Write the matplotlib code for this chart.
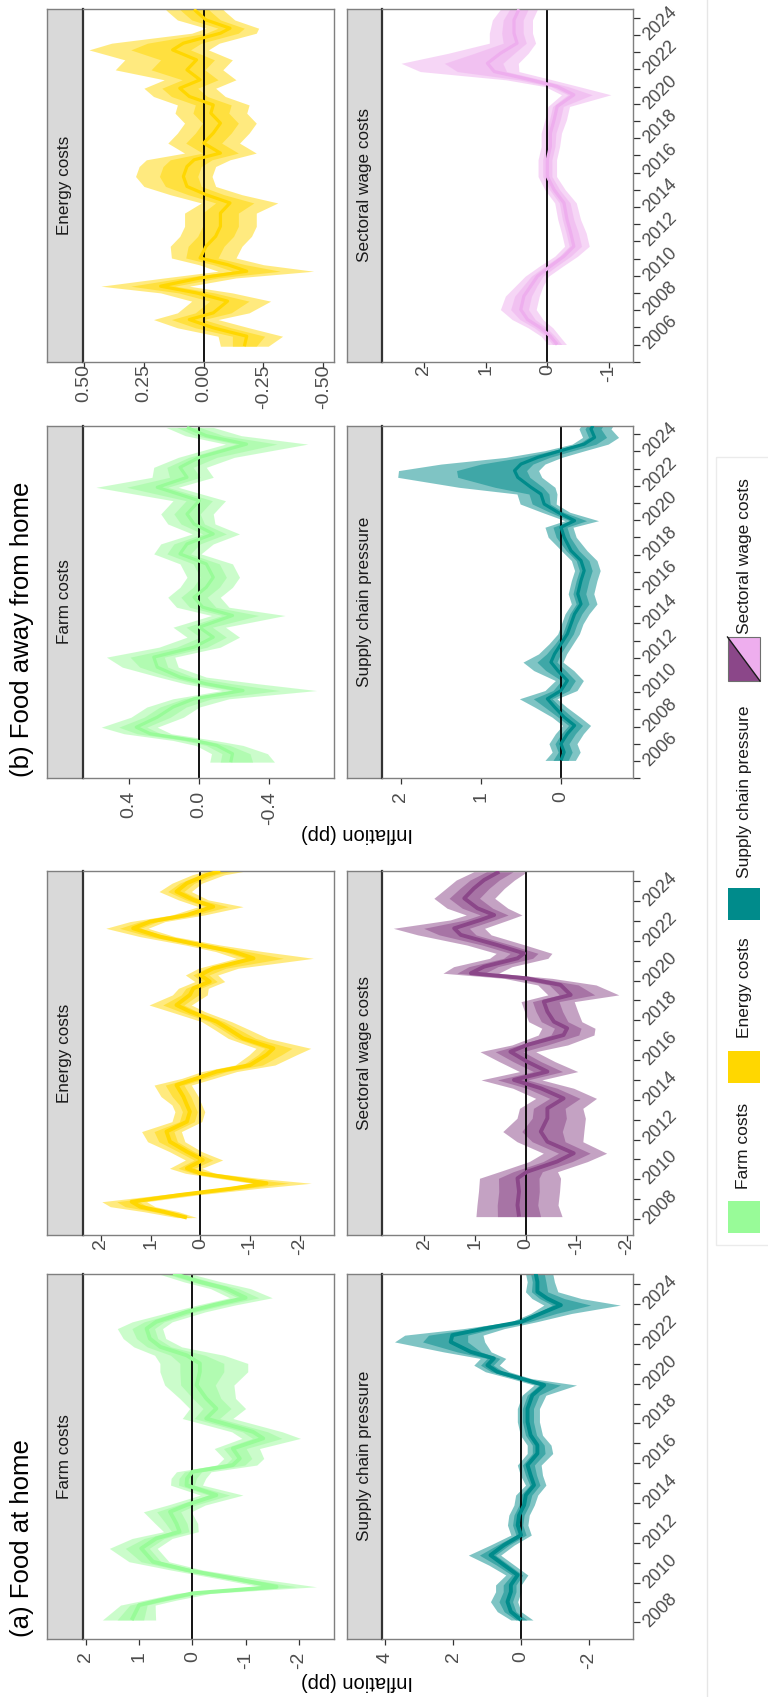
import numpy as np
import matplotlib
matplotlib.use("Agg")
import matplotlib.pyplot as plt
from matplotlib.patches import Rectangle, Polygon
from matplotlib.transforms import ScaledTranslation

plt.rcParams['font.family'] = ['Liberation Sans', 'DejaVu Sans']

# ---------------- data (years, centre estimate, outer band above / below) ----------------
# (a) Food at home
a_farm_t = [2008.12, 2008.87, 2009.12, 2009.46, 2009.79, 2010.21, 2010.63, 2011.05, 2011.72, 2012.22,
            2012.56, 2012.97, 2013.56, 2013.9, 2014.4, 2014.9, 2015.24, 2015.57, 2015.91, 2016.24,
            2016.74, 2017.25, 2017.58, 2018.25, 2018.75, 2019.26, 2019.93, 2020.6, 2021.02, 2021.43,
            2021.85, 2022.27, 2022.77, 2023.11, 2023.61, 2023.95, 2024.32, 2024.78, 2025.12, 2025.54]
a_farm_c = [1.14, 1.0, 0.6, 0.0, -1.58, -0.76, 0.1, 0.74, 0.96, 0.68,
            0.24, 0.3, 0.42, 0.11, -0.45, 0.11, 0.1, 0.0, -0.76, -0.89,
            -0.76, -1.33, -1.14, -0.26, -0.45, -0.26, -0.08, -0.14, -0.14, 0.11,
            0.6, 0.8, 0.86, 0.68, 0.11, -0.39, -1.0, -0.64, -0.14, 0.36]
a_farm_up = [0.55, 0.35, 0.3, 0.3, 0.3, 0.3, 0.3, 0.45, 0.6, 0.45,
             0.3, 0.4, 0.5, 0.35, 0.3, 0.3, 0.3, 0.3, 0.3, 0.3,
             0.35, 0.4, 0.4, 0.45, 0.5, 0.5, 0.6, 0.75, 0.75, 0.6,
             0.5, 0.5, 0.55, 0.45, 0.3, 0.3, 0.3, 0.3, 0.3, 0.3]
a_farm_dn = [0.45, 0.3, 0.3, 0.35, 0.75, 0.45, 0.3, 0.3, 0.3, 0.3,
             0.35, 0.4, 0.4, 0.35, 0.5, 0.3, 0.35, 0.35, 0.45, 0.45,
             0.5, 0.7, 0.55, 0.5, 0.55, 0.55, 0.7, 0.9, 0.9, 0.7,
             0.4, 0.3, 0.3, 0.3, 0.35, 0.4, 0.5, 0.45, 0.4, 0.3]

a_energy_t = [2008.07, 2008.37, 2008.62, 2008.87, 2009.21, 2009.54, 2009.8, 2010.05, 2010.3, 2010.55,
              2010.97, 2011.39, 2011.89, 2012.4, 2012.9, 2013.4, 2013.74, 2014.16, 2014.74, 2015.08,
              2015.42, 2015.75, 2016.26, 2016.59, 2017.09, 2017.51, 2017.93, 2018.44, 2018.77, 2019.28,
              2019.61, 2019.95, 2020.28, 2020.62, 2021.12, 2021.46, 2021.79, 2022.21, 2022.63, 2022.97,
              2023.3, 2023.72, 2024.06, 2024.48, 2024.9, 2025.32, 2025.51]
a_energy_c = [0.27, 0.74, 1.21, 1.38, 0.41, -0.66, -1.33, -0.66, 0.0, 0.27,
              -0.05, 0.27, 0.61, 0.68, 0.27, 0.21, 0.27, 0.34, 0.48, 0.07,
              -0.33, -1.0, -1.33, -1.47, -0.86, -0.6, -0.33, 0.21, 0.48, 0.21,
              0.14, -0.19, 0.0, -0.26, -1.07, -0.66, 0.0, 0.81, 1.35, 1.01,
              0.27, -0.26, 0.14, 0.48, 0.27, -0.13, -0.4]
a_energy_up = [0.2, 0.4, 0.6, 0.6, 0.4, 0.3, 0.3, 0.3, 0.3, 0.35,
               0.35, 0.35, 0.45, 0.5, 0.3, 0.3, 0.3, 0.45, 0.45, 0.3,
               0.3, 0.3, 0.35, 0.35, 0.3, 0.3, 0.3, 0.4, 0.55, 0.35,
               0.3, 0.3, 0.3, 0.3, 0.35, 0.35, 0.3, 0.4, 0.55, 0.4,
               0.3, 0.3, 0.3, 0.35, 0.3, 0.3, 0.3]
a_energy_dn = [0.2, 0.3, 0.3, 0.3, 0.35, 0.5, 0.9, 0.5, 0.3, 0.3,
               0.4, 0.3, 0.3, 0.3, 0.3, 0.3, 0.3, 0.3, 0.3, 0.35,
               0.4, 0.5, 0.6, 0.75, 0.5, 0.4, 0.3, 0.3, 0.3, 0.35,
               0.3, 0.3, 0.35, 0.5, 1.2, 0.6, 0.4, 0.3, 0.3, 0.3,
               0.35, 0.6, 0.3, 0.3, 0.3, 0.35, 0.5]

a_supply_t = [2008.12, 2008.54, 2009.04, 2009.54, 2009.88, 2010.38, 2010.88, 2011.38, 2011.89, 2012.39,
              2012.89, 2013.39, 2013.9, 2014.4, 2014.9, 2015.4, 2015.91, 2016.49, 2016.91, 2017.41,
              2018.08, 2018.75, 2019.42, 2019.93, 2020.26, 2020.6, 2020.93, 2021.27, 2021.6, 2022.1,
              2022.44, 2022.77, 2023.11, 2023.53, 2023.95, 2024.28, 2024.62, 2025.12, 2025.54]
a_supply_c = [0.0, 0.3, 0.4, 0.3, 0.3, 0.1, 0.5, 0.9, 0.5, 0.0,
              0.1, 0.06, -0.09, -0.14, -0.38, -0.28, -0.19, -0.48, -0.48, -0.28,
              -0.19, -0.19, -0.33, -0.68, 0.0, 0.7, 0.99, 0.8, 1.48, 2.07,
              2.02, 1.09, 0.0, -0.58, -1.17, -0.77, -0.48, -0.48, -0.43]
a_supply_up = [0.3, 0.4, 0.5, 0.45, 0.45, 0.35, 0.45, 0.65, 0.4, 0.3,
               0.3, 0.3, 0.3, 0.3, 0.25, 0.3, 0.3, 0.3, 0.3, 0.3,
               0.3, 0.3, 0.3, 0.3, 0.3, 0.35, 0.4, 0.4, 0.8, 1.65,
               1.4, 0.6, 0.3, 0.3, 0.5, 0.45, 0.35, 0.3, 0.3]
a_supply_dn = [0.35, 0.3, 0.3, 0.3, 0.3, 0.3, 0.3, 0.3, 0.3, 0.3,
               0.3, 0.3, 0.3, 0.35, 0.35, 0.35, 0.4, 0.45, 0.4, 0.35,
               0.35, 0.35, 0.4, 0.95, 0.3, 0.35, 0.35, 0.35, 0.6, 1.0,
               0.9, 0.6, 0.45, 0.9, 1.75, 1.0, 0.6, 0.5, 0.5]

a_wage_t = [2008.12, 2008.7, 2009.38, 2010.05, 2010.38, 2010.89, 2011.31, 2011.89, 2012.4, 2013.07,
            2013.57, 2014.07, 2014.58, 2015.0, 2015.42, 2015.92, 2016.42, 2016.76, 2017.26, 2017.6,
            2017.93, 2018.44, 2018.94, 2019.28, 2019.78, 2020.11, 2020.37, 2020.7, 2021.12, 2021.37,
            2021.79, 2022.3, 2022.63, 2023.05, 2023.3, 2023.64, 2024.14, 2024.64, 2025.06, 2025.48]
a_wage_c = [0.13, 0.16, 0.13, 0.16, -0.03, -0.62, -0.95, -0.43, -0.3, -0.43,
            -0.43, -0.75, -0.3, 0.23, -0.43, -0.03, 0.3, -0.03, -0.75, -0.82,
            -0.56, -0.43, -0.36, -0.89, -0.69, -0.03, 1.08, 0.82, 0.16, 0.03,
            0.56, 1.28, 1.41, 0.89, 0.62, 0.95, 1.21, 1.02, 0.82, 0.52]
a_wage_up = [0.85, 0.8, 0.8, 0.75, 0.55, 0.55, 0.6, 0.6, 0.75, 0.6,
             0.55, 0.55, 0.55, 0.65, 0.55, 0.55, 0.6, 0.3, 0.5, 0.5,
             0.5, 0.45, 0.45, 0.45, 0.45, 0.45, 0.55, 0.6, 0.55, 0.55,
             0.6, 0.85, 1.2, 0.6, 0.55, 0.6, 0.6, 0.55, 0.55, 0.5]
a_wage_dn = [0.85, 0.8, 0.8, 0.85, 0.6, 0.6, 0.65, 0.7, 0.85, 0.75,
             0.7, 0.65, 0.65, 0.55, 0.6, 0.55, 0.5, 0.8, 0.6, 0.55,
             0.55, 0.6, 0.6, 0.95, 0.7, 0.5, 0.55, 0.55, 0.6, 0.55,
             0.55, 0.6, 0.6, 0.55, 0.55, 0.6, 0.6, 0.6, 0.6, 0.55]

# (b) Food away from home
b_farm_t = [2005.94, 2006.43, 2006.91, 2007.2, 2007.59, 2007.97, 2008.55, 2009.14, 2009.62, 2010.1,
            2010.49, 2010.88, 2011.46, 2012.04, 2012.62, 2013.2, 2013.78, 2014.46, 2014.94, 2015.52,
            2016.1, 2016.68, 2017.46, 2018.04, 2018.62, 2019.2, 2019.78, 2020.36, 2021.13, 2021.91,
            2022.49, 2023.07, 2023.65, 2024.42, 2024.91, 2025.39]
b_farm_c = [-0.18, -0.19, -0.1, 0.03, 0.28, 0.36, 0.24, 0.15, 0.03, -0.25,
            -0.04, 0.11, 0.24, 0.26, 0.03, -0.08, 0.0, -0.19, -0.02, 0.03,
            -0.04, -0.08, -0.04, 0.11, 0.07, -0.08, 0.03, 0.07, 0.0, 0.24,
            0.07, 0.11, 0.0, -0.27, -0.04, 0.07]
b_farm_up = [0.12, 0.12, 0.12, 0.12, 0.15, 0.2, 0.15, 0.15, 0.12, 0.12,
             0.12, 0.12, 0.2, 0.27, 0.2, 0.15, 0.15, 0.12, 0.15, 0.15,
             0.15, 0.15, 0.15, 0.15, 0.15, 0.12, 0.15, 0.15, 0.15, 0.35,
             0.2, 0.15, 0.12, 0.12, 0.12, 0.12]
b_farm_dn = [0.25, 0.2, 0.15, 0.12, 0.12, 0.12, 0.15, 0.15, 0.2, 0.42,
             0.3, 0.15, 0.12, 0.12, 0.15, 0.15, 0.15, 0.3, 0.15, 0.15,
             0.15, 0.15, 0.15, 0.12, 0.15, 0.15, 0.12, 0.15, 0.15, 0.12,
             0.15, 0.15, 0.2, 0.35, 0.2, 0.15]

b_energy_t = [2005.9, 2006.48, 2006.97, 2007.45, 2007.84, 2008.52, 2009.0, 2009.39, 2009.87, 2010.26,
              2010.64, 2011.03, 2011.71, 2012.29, 2012.87, 2013.64, 2014.23, 2014.71, 2015.19, 2015.77,
              2016.35, 2016.74, 2017.13, 2017.71, 2018.29, 2018.87, 2019.45, 2019.93, 2020.42, 2020.9,
              2021.39, 2021.97, 2022.55, 2023.13, 2023.52, 2024.1, 2024.39, 2024.87, 2025.35, 2025.49]
b_energy_c = [-0.17, -0.18, -0.04, 0.06, -0.04, -0.1, 0.03, 0.18, 0.015, -0.18,
              -0.1, 0.015, -0.01, -0.05, -0.07, -0.07, -0.11, -0.01, 0.07, 0.085,
              0.07, 0.04, -0.07, 0.0, -0.04, -0.07, -0.03, -0.04, 0.06, 0.1,
              0.015, 0.07, 0.03, 0.13, 0.085, -0.07, -0.11, -0.01, 0.03, 0.04]
b_energy_up = [0.1, 0.12, 0.15, 0.15, 0.15, 0.15, 0.15, 0.25, 0.15, 0.12,
               0.12, 0.12, 0.15, 0.15, 0.15, 0.15, 0.12, 0.15, 0.18, 0.2,
               0.2, 0.2, 0.15, 0.15, 0.15, 0.15, 0.15, 0.15, 0.15, 0.15,
               0.15, 0.3, 0.3, 0.35, 0.3, 0.12, 0.1, 0.12, 0.12, 0.12]
b_energy_dn = [0.1, 0.15, 0.15, 0.12, 0.15, 0.18, 0.15, 0.12, 0.15, 0.28,
               0.15, 0.15, 0.15, 0.15, 0.15, 0.15, 0.2, 0.15, 0.12, 0.12,
               0.12, 0.15, 0.15, 0.15, 0.15, 0.15, 0.15, 0.15, 0.15, 0.15,
               0.15, 0.15, 0.15, 0.15, 0.15, 0.15, 0.12, 0.12, 0.12, 0.12]

b_supply_t = [2006.04, 2006.52, 2007.01, 2007.59, 2008.07, 2008.55, 2009.14, 2009.62, 2010.1, 2010.68,
              2011.26, 2011.75, 2012.23, 2012.81, 2013.39, 2013.97, 2014.55, 2015.13, 2015.72, 2016.49,
              2017.07, 2017.65, 2018.23, 2019.01, 2019.59, 2019.97, 2020.46, 2020.94, 2021.52, 2021.91,
              2022.49, 2022.88, 2023.26, 2023.65, 2024.04, 2024.42, 2024.81, 2025.3, 2025.49]
b_supply_c = [0.0, -0.04, 0.0, -0.08, -0.17, -0.04, 0.08, 0.17, 0.0, -0.08,
              0.04, 0.125, 0.08, 0.0, -0.08, -0.125, -0.17, -0.25, -0.21, -0.25,
              -0.29, -0.25, -0.125, -0.04, 0.0, -0.17, 0.04, 0.21, 0.25, 0.375,
              0.54, 0.58, 0.5, 0.29, 0.0, -0.29, -0.42, -0.375, -0.4]
b_supply_up = [0.2, 0.15, 0.15, 0.15, 0.15, 0.15, 0.25, 0.35, 0.2, 0.15,
               0.3, 0.35, 0.2, 0.15, 0.12, 0.12, 0.12, 0.12, 0.12, 0.12,
               0.12, 0.12, 0.12, 0.2, 0.2, 0.12, 0.2, 0.3, 0.3, 0.9,
               1.5, 1.45, 1.0, 0.4, 0.2, 0.15, 0.15, 0.15, 0.15]
b_supply_dn = [0.18, 0.2, 0.2, 0.2, 0.2, 0.2, 0.15, 0.12, 0.2, 0.2,
               0.2, 0.15, 0.15, 0.15, 0.15, 0.15, 0.18, 0.2, 0.2, 0.2,
               0.2, 0.2, 0.2, 0.15, 0.15, 0.3, 0.15, 0.15, 0.2, 0.3,
               0.3, 0.3, 0.3, 0.3, 0.3, 0.3, 0.3, 0.25, 0.25]

b_wage_t = [2006.0, 2006.48, 2006.97, 2007.45, 2008.03, 2008.81, 2009.39, 2009.97, 2010.55, 2011.13,
            2011.71, 2012.48, 2013.26, 2014.23, 2015.0, 2015.77, 2016.74, 2017.52, 2018.29, 2019.06,
            2019.84, 2020.52, 2021.0, 2021.39, 2021.87, 2022.35, 2022.93, 2023.52, 2024.1, 2024.87, 2025.49]
b_wage_c = [-0.16, -0.05, 0.11, 0.32, 0.43, 0.38, 0.27, 0.16, -0.05, -0.27,
            -0.43, -0.38, -0.32, -0.27, -0.11, 0.0, 0.0, -0.05, -0.05, -0.11,
            -0.16, -0.43, -0.16, 0.27, 0.86, 0.97, 0.76, 0.49, 0.54, 0.54, 0.46]
b_wage_up = [0.15, 0.15, 0.2, 0.25, 0.33, 0.3, 0.25, 0.2, 0.18, 0.15,
             0.15, 0.15, 0.15, 0.15, 0.15, 0.15, 0.15, 0.15, 0.15, 0.15,
             0.15, 0.2, 0.2, 0.4, 1.2, 1.4, 0.85, 0.45, 0.4, 0.35, 0.3]
b_wage_dn = [0.15, 0.15, 0.2, 0.25, 0.25, 0.25, 0.2, 0.18, 0.2, 0.22,
             0.25, 0.25, 0.22, 0.2, 0.18, 0.15, 0.15, 0.15, 0.18, 0.2,
             0.2, 0.6, 0.35, 0.35, 0.4, 0.5, 0.45, 0.3, 0.3, 0.3, 0.3]

legend_labels = ["Farm costs", "Energy costs", "Supply chain pressure", "Sectoral wage costs"]
panel_titles = ["(a) Food at home", "(b) Food away from home"]

# ---------------- style ----------------
FARM = '#98FB98'
ENERGY = '#FFD700'
SUPPLY = '#008B8B'
WAGE_A = '#8B4789'
WAGE_B = '#EEAEEE'
STRIP_BG = '#D9D9D9'
BORDER = '#7F7F7F'
DARK = '#333333'
TICKLAB = '#4D4D4D'
INNER_SHARE = 0.5

W, H = 768, 1697
fig = plt.figure(figsize=(W / 100, H / 100), dpi=100)
fig.patch.set_facecolor('white')


def box(x0, y0, x1, y1):
    return [x0 / W, 1 - y1 / H, (x1 - x0) / W, (y1 - y0) / H]


def draw_panel(xs, x0, x1, yt, yb, label, t, c, up, dn, color, lw, vlim, vticks, vlabels,
               tlim, years, lower):
    sax = fig.add_axes(box(xs, yt, x0, yb))
    sax.set_facecolor(STRIP_BG)
    sax.set_xticks([])
    sax.set_yticks([])
    for s in ['top', 'bottom', 'left']:
        sax.spines[s].set_color(BORDER)
        sax.spines[s].set_linewidth(1.0)
    sax.spines['right'].set_visible(False)
    sax.text(0.5, 0.5, label, rotation=90, ha='center', va='center',
             transform=sax.transAxes, fontsize=12.3, color='#1A1A1A')

    ax = fig.add_axes(box(x0, yt, x1, yb))
    t = np.asarray(t)
    c = np.asarray(c)
    up = np.asarray(up)
    dn = np.asarray(dn)
    ax.fill_betweenx(t, c - dn, c + up, color=color, alpha=0.5, lw=0, zorder=1)
    ax.fill_betweenx(t, c - dn * INNER_SHARE, c + up * INNER_SHARE, color=color,
                     alpha=0.5, lw=0, zorder=1.5)
    ax.axvline(0, color='black', lw=1.3, zorder=2)
    ax.plot(c, t, color=color, lw=lw, zorder=3, solid_joinstyle='round',
            solid_capstyle='butt')
    ax.set_xlim(vlim)
    ax.set_ylim(tlim)
    for s in ['top', 'bottom', 'right']:
        ax.spines[s].set_color(BORDER)
        ax.spines[s].set_linewidth(1.0)
    ax.spines['left'].set_color(DARK)
    ax.spines['left'].set_linewidth(1.6)
    ax.set_xticks(vticks)
    ax.set_xticklabels(vlabels)
    ax.tick_params(axis='x', bottom=True, top=False, length=4.3, width=0.9, color=DARK,
                   labelsize=14, labelcolor=TICKLAB, labelrotation=90,
                   pad=5.0 if lower else -2.5)
    if years is None:
        ax.set_yticks([])
        ax.tick_params(axis='y', left=False, right=False)
    else:
        ax.yaxis.tick_right()
        ax.set_yticks(years)
        ax.set_yticklabels([str(y) if y % 2 == 0 else '' for y in years])
        ax.tick_params(axis='y', right=True, left=False, length=5, width=0.9, color=DARK,
                       labelsize=13, labelcolor=TICKLAB, pad=4)
        off = ScaledTranslation(0, -2 / 72, fig.dpi_scale_trans)
        for lab in ax.get_yticklabels():
            lab.set_rotation(45)
            lab.set_rotation_mode('anchor')
            lab.set_horizontalalignment('left')
            lab.set_verticalalignment('center')
            lab.set_transform(lab.get_transform() + off)
    return ax


TL_A = (2007.18, 2025.53)
TL_B = (2005.0, 2025.49)
YEARS_A = list(range(2008, 2026))
YEARS_B = list(range(2005, 2026))

LX_S, LX0, LX1 = 47, 82.7, 334
RX_S, RX0, RX1 = 346.7, 381.7, 633

# (a) panels
draw_panel(LX_S, LX0, LX1, 1273.7, 1638.7, legend_labels[0], a_farm_t, a_farm_c, a_farm_up, a_farm_dn,
           FARM, 2.8, (2.06, -2.66), [2, 1, 0, -1, -2], ['2', '1', '0', '-1', '-2'], TL_A, None, True)
draw_panel(LX_S, LX0, LX1, 870.7, 1235.3, legend_labels[1], a_energy_t, a_energy_c, a_energy_up, a_energy_dn,
           ENERGY, 2.8, (2.364, -2.687), [2, 1, 0, -1, -2], ['2', '1', '0', '-1', '-2'], TL_A, None, False)
draw_panel(RX_S, RX0, RX1, 1273.7, 1638.7, legend_labels[2], a_supply_t, a_supply_c, a_supply_up, a_supply_dn,
           SUPPLY, 2.8, (4.097, -3.29), [4, 2, 0, -2], ['4', '2', '0', '-2'], TL_A, YEARS_A, True)
draw_panel(RX_S, RX0, RX1, 870.7, 1235.3, legend_labels[3], a_wage_t, a_wage_c, a_wage_up, a_wage_dn,
           WAGE_A, 2.8, (2.84, -2.12), [2, 1, 0, -1, -2], ['2', '1', '0', '-1', '-2'], TL_A, YEARS_A, False)

# (b) panels
draw_panel(LX_S, LX0, LX1, 425.7, 778.3, legend_labels[0], b_farm_t, b_farm_c, b_farm_up, b_farm_dn,
           FARM, 2.3, (0.666, -0.77), [0.4, 0.0, -0.4], ['0.4', '0.0', '-0.4'], TL_B, None, True)
draw_panel(LX_S, LX0, LX1, 9.3, 361.7, legend_labels[1], b_energy_t, b_energy_c, b_energy_up, b_energy_dn,
           ENERGY, 2.3, (0.506, -0.545), [0.5, 0.25, 0.0, -0.25, -0.5],
           ['0.50', '0.25', '0.00', '-0.25', '-0.50'], TL_B, None, False)
draw_panel(RX_S, RX0, RX1, 425.7, 778.3, legend_labels[2], b_supply_t, b_supply_c, b_supply_up, b_supply_dn,
           SUPPLY, 2.3, (2.24, -0.90), [2, 1, 0], ['2', '1', '0'], TL_B, YEARS_B, True)
draw_panel(RX_S, RX0, RX1, 9.3, 361.7, legend_labels[3], b_wage_t, b_wage_c, b_wage_up, b_wage_dn,
           WAGE_B, 2.3, (2.684, -1.389), [2, 1, 0, -1], ['2', '1', '0', '-1'], TL_B, YEARS_B, False)

# ---------------- overlay: titles, axis titles, legend ----------------
ov = fig.add_axes([0, 0, 1, 1])
ov.set_xlim(0, W)
ov.set_ylim(H, 0)
ov.axis('off')
ov.patch.set_alpha(0)

ov.text(22, 1637, panel_titles[0], rotation=90, ha='center', va='bottom', fontsize=18.5, color='black')
ov.text(22, 777, panel_titles[1], rotation=90, ha='center', va='bottom', fontsize=18.5, color='black')
ov.text(357, 1682, 'Inflation (pp)', rotation=180, ha='center', va='center', fontsize=14.5, color='black')
ov.text(357, 834, 'Inflation (pp)', rotation=180, ha='center', va='center', fontsize=14.5, color='black')

ov.plot([707, 707], [0, H], color='#E6E6E6', lw=1.0)
ov.add_patch(Rectangle((716, 457), 80, 788, facecolor='none', edgecolor='#EBEBEB', lw=1.0))

KX0, KX1 = 727.5, 760
ov.add_patch(Rectangle((KX0, 1201), KX1 - KX0, 32, facecolor=FARM, edgecolor='none'))
ov.add_patch(Rectangle((KX0, 1051), KX1 - KX0, 32, facecolor=ENERGY, edgecolor='none'))
ov.add_patch(Rectangle((KX0, 888), KX1 - KX0, 32, facecolor=SUPPLY, edgecolor='none'))
ov.add_patch(Polygon([(KX0, 637), (KX0, 681), (KX1, 681)], closed=True, facecolor=WAGE_A, edgecolor='none'))
ov.add_patch(Polygon([(KX0, 637), (KX1, 637), (KX1, 681)], closed=True, facecolor=WAGE_B, edgecolor='none'))
ov.plot([KX0, KX1], [637, 681], color='#1A1A1A', lw=1.0)
ov.add_patch(Rectangle((KX0, 637), KX1 - KX0, 44, facecolor='none', edgecolor='#6E6E6E', lw=0.8))

for lab, yc in zip(legend_labels, [1145.5, 988, 792, 556]):
    ov.text(744, yc, lab, rotation=90, ha='center', va='center', fontsize=12.5, color='#1A1A1A')

fig.savefig('out.png', dpi=100, facecolor='white')
